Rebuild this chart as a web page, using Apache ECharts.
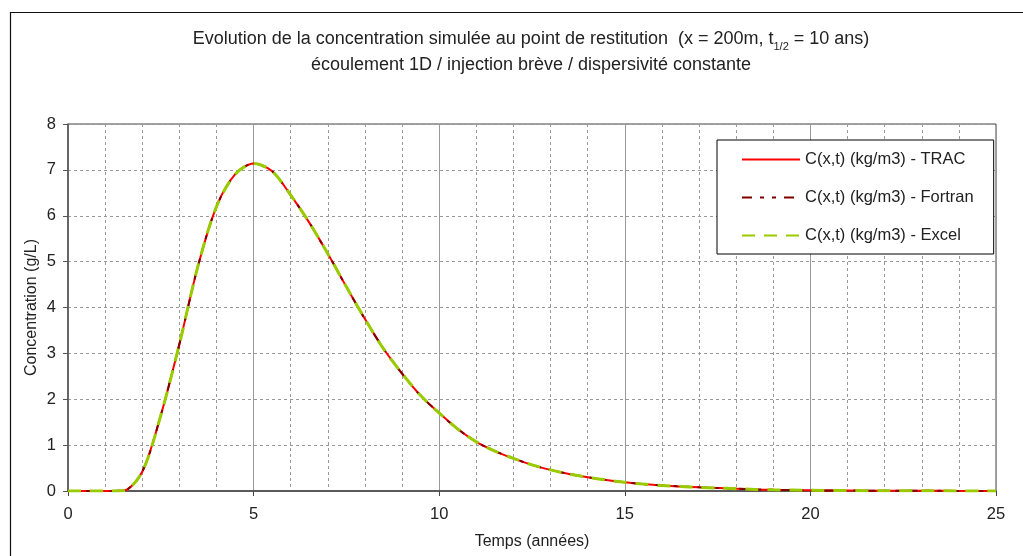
<!DOCTYPE html>
<html>
<head>
<meta charset="utf-8">
<style>
  html, body { margin: 0; padding: 0; background: #fff; }
  #chart { width: 1023px; height: 556px; }
</style>
<script src="https://cdn.jsdelivr.net/npm/echarts@6/dist/echarts.min.js"></script>
</head>
<body>
<div id="chart"></div>
<script>
// temps (années)
const times = [0, 0.5, 1, 1.5, 2, 2.5, 3, 3.5, 4, 4.5, 5, 5.5, 6, 6.5, 7, 7.5, 8, 8.5, 9, 9.5,
  10, 10.5, 11, 11.5, 12, 12.5, 13, 13.5, 14, 14.5, 15, 15.5, 16, 16.5, 17, 17.5, 18, 18.5,
  19, 19.5, 20, 21, 22, 23, 24, 25];

// concentrations (g/L)
const tracValues = [0, 0, 0, 0.01, 0.42, 1.65, 3.2, 4.9, 6.2, 6.9, 7.14, 6.97, 6.45, 5.85, 5.17, 4.45,
  3.75, 3.1, 2.56, 2.08, 1.7, 1.35, 1.07, 0.87, 0.71, 0.57, 0.46, 0.37, 0.3, 0.24, 0.19, 0.15,
  0.12, 0.1, 0.08, 0.065, 0.05, 0.035, 0.025, 0.02, 0.015, 0.01, 0.006, 0.004, 0.002, 0.001];
const fortranValues = [0, 0, 0, 0.01, 0.42, 1.65, 3.2, 4.9, 6.2, 6.9, 7.14, 6.97, 6.45, 5.85, 5.17, 4.45,
  3.75, 3.1, 2.56, 2.08, 1.7, 1.35, 1.07, 0.87, 0.71, 0.57, 0.46, 0.37, 0.3, 0.24, 0.19, 0.15,
  0.12, 0.1, 0.08, 0.065, 0.05, 0.035, 0.025, 0.02, 0.015, 0.01, 0.006, 0.004, 0.002, 0.001];
const excelValues = [0, 0, 0, 0.01, 0.42, 1.65, 3.2, 4.9, 6.2, 6.9, 7.14, 6.97, 6.45, 5.85, 5.17, 4.45,
  3.75, 3.1, 2.56, 2.08, 1.7, 1.35, 1.07, 0.87, 0.71, 0.57, 0.46, 0.37, 0.3, 0.24, 0.19, 0.15,
  0.12, 0.1, 0.08, 0.065, 0.05, 0.035, 0.025, 0.02, 0.015, 0.01, 0.006, 0.004, 0.002, 0.001];

const seriesNames = ['C(x,t) (kg/m3) - TRAC', 'C(x,t) (kg/m3) - Fortran', 'C(x,t) (kg/m3) - Excel'];

const toPoints = (vals) => times.map((t, i) => [t, vals[i]]);

const font = 'Liberation Sans, Arial, sans-serif';
const chart = echarts.init(document.getElementById('chart'));

chart.setOption({
  animation: false,
  textStyle: { fontFamily: font },
  title: {
    text: 'Evolution de la concentration simulée au point de restitution  (x = 200m, t{sub|1/2} = 10 ans)\nécoulement 1D / injection brève / dispersivité constante',
    left: 526,
    textAlign: 'center',
    top: 21,
    textStyle: {
      fontFamily: font,
      fontSize: 18,
      fontWeight: 'normal',
      color: '#222',
      lineHeight: 26,
      rich: {
        sub: { fontSize: 11, fontFamily: font, color: '#222', verticalAlign: 'bottom', lineHeight: 20 }
      }
    }
  },
  graphic: [{
    type: 'rect',
    silent: true,
    shape: { x: 10.5, y: 12.5, width: 1100, height: 600 },
    style: { fill: 'none', stroke: '#111', lineWidth: 1.2 }
  }],
  legend: {
    orient: 'vertical',
    left: 717,
    top: 140,
    data: seriesNames,
    itemWidth: 58,
    itemHeight: 14,
    itemGap: 21,
    padding: [11, 20, 10, 24],
    borderColor: '#000',
    borderWidth: 1,
    backgroundColor: '#fff',
    itemStyle: { opacity: 0 },
    textStyle: { fontFamily: font, fontSize: 16.5, color: '#222' }
  },
  grid: {
    left: 68,
    right: 27,
    top: 124,
    bottom: 65,
    show: true,
    borderColor: '#444',
    borderWidth: 1
  },
  xAxis: {
    type: 'value',
    min: 0,
    max: 25,
    interval: 5,
    name: 'Temps (années)',
    nameLocation: 'middle',
    nameGap: 43,
    nameTextStyle: { fontFamily: font, fontSize: 16, color: '#222' },
    axisLine: { lineStyle: { color: '#444', width: 1.5 } },
    axisTick: { show: true, length: 5, lineStyle: { color: '#444' } },
    axisLabel: { fontFamily: font, fontSize: 16.5, color: '#222', margin: 15 },
    splitLine: { show: true, lineStyle: { color: '#999', width: 1 } },
    minorTick: { show: false, splitNumber: 5 },
    minorSplitLine: { show: true, lineStyle: { color: '#999', type: [3, 3], width: 1 } }
  },
  yAxis: {
    type: 'value',
    min: 0,
    max: 8,
    interval: 1,
    name: 'Concentration (g/L)',
    nameLocation: 'middle',
    nameGap: 28,
    nameMoveOverlap: false,
    nameTextStyle: { fontFamily: font, fontSize: 16, color: '#222' },
    axisLine: { show: true, lineStyle: { color: '#555', width: 1.5 } },
    axisTick: { show: true, length: 5, lineStyle: { color: '#555' } },
    axisLabel: { fontFamily: font, fontSize: 16.5, color: '#222', margin: 12 },
    splitLine: { show: true, lineStyle: { color: '#999', type: [3, 3], width: 1 } }
  },
  series: [
    {
      name: seriesNames[0],
      type: 'line',
      data: toPoints(tracValues),
      smooth: 0.3,
      symbol: 'none',
      lineStyle: { color: '#ff0000', width: 2 },
      itemStyle: { color: '#ff0000' }
    },
    {
      name: seriesNames[1],
      type: 'line',
      data: toPoints(fortranValues),
      smooth: 0.3,
      symbol: 'none',
      lineStyle: { color: '#800000', width: 2, type: [10, 8, 4, 8, 4, 8] },
      itemStyle: { color: '#800000' }
    },
    {
      name: seriesNames[2],
      type: 'line',
      data: toPoints(excelValues),
      smooth: 0.3,
      symbol: 'none',
      lineStyle: { color: '#99cc00', width: 3, type: [13, 9] },
      itemStyle: { color: '#99cc00' }
    }
  ]
});
</script>
</body>
</html>
